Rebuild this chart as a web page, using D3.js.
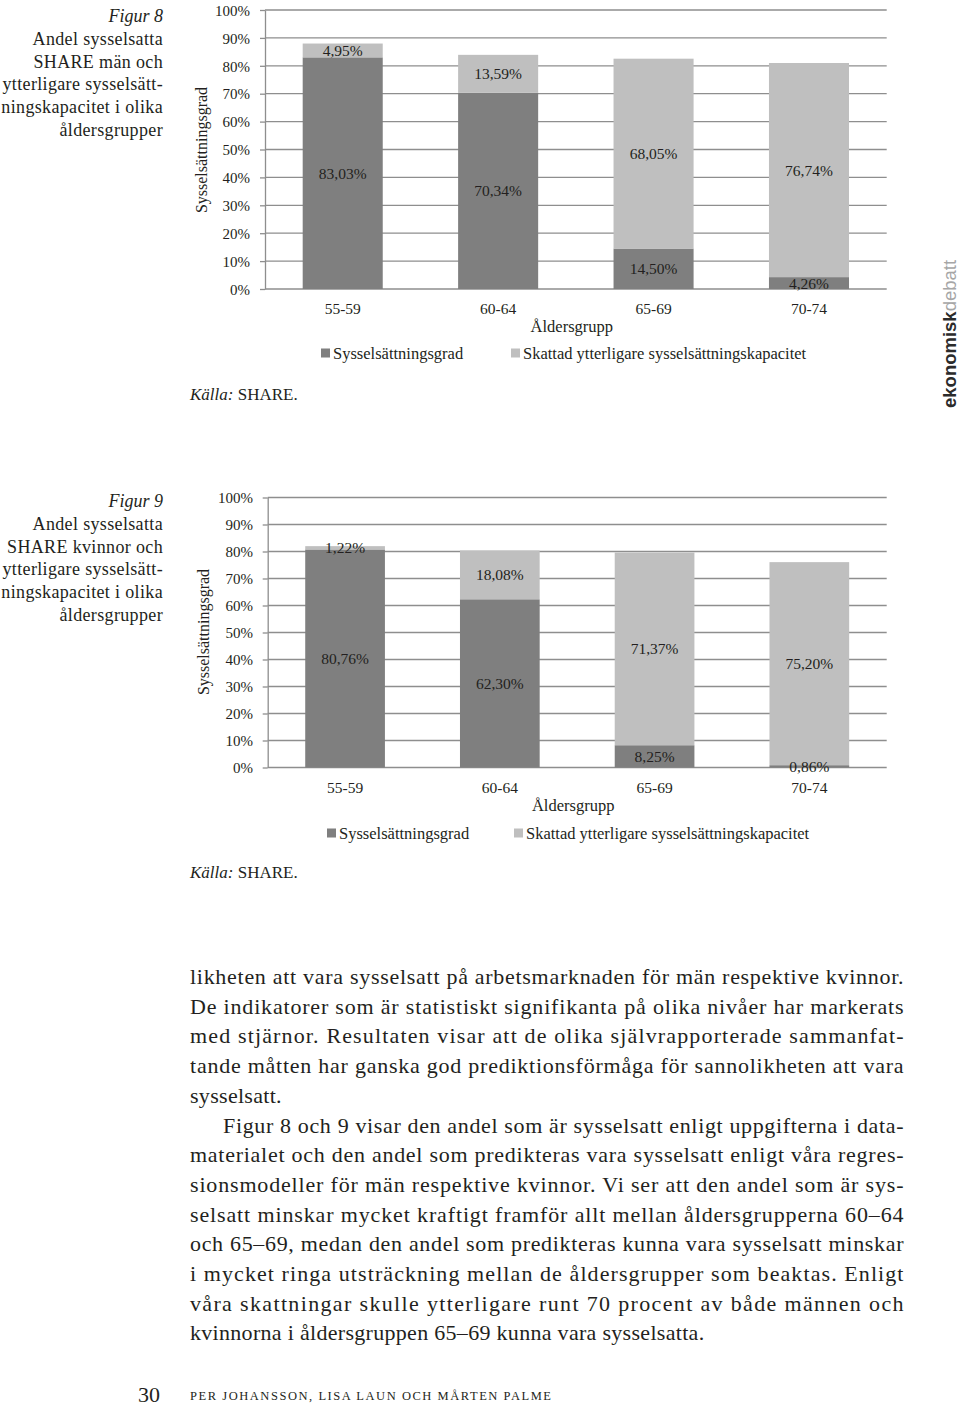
<!DOCTYPE html>
<html>
<head>
<meta charset="utf-8">
<script src="https://cdn.jsdelivr.net/npm/d3@7"></script>
<style>
  body { margin: 0; background: #fff; }
  svg { display: block; }
  text { font-family: "Liberation Serif", "Times New Roman", serif; fill: #231f20; }
</style>
</head>
<body>
<script>
// data
const ageGroups = ["55-59", "60-64", "65-69", "70-74"];
const menEmployed = [83.03, 70.34, 14.50, 4.26];
const menCapacity = [4.95, 13.59, 68.05, 76.74];
const womenEmployed = [80.76, 62.30, 8.25, 0.86];
const womenCapacity = [1.22, 18.08, 71.37, 75.20];
const yTicks = [0, 10, 20, 30, 40, 50, 60, 70, 80, 90, 100];
const seriesNames = ["Sysselsättningsgrad", "Skattad ytterligare sysselsättningskapacitet"];
const captionMen = ["Andel sysselsatta", "SHARE män och", "ytterligare sysselsätt-", "ningskapacitet i olika", "åldersgrupper"];
const captionWomen = ["Andel sysselsatta", "SHARE kvinnor och", "ytterligare sysselsätt-", "ningskapacitet i olika", "åldersgrupper"];
const bodyLines = [
  "likheten att vara sysselsatt på arbetsmarknaden för män respektive kvinnor.",
  "De indikatorer som är statistiskt signifikanta på olika nivåer har markerats",
  "med stjärnor. Resultaten visar att de olika självrapporterade sammanfat-",
  "tande måtten har ganska god prediktionsförmåga för sannolikheten att vara",
  "sysselsatt.",
  "Figur 8 och 9 visar den andel som är sysselsatt enligt uppgifterna i data-",
  "materialet och den andel som predikteras vara sysselsatt enligt våra regres-",
  "sionsmodeller för män respektive kvinnor. Vi ser att den andel som är sys-",
  "selsatt minskar mycket kraftigt framför allt mellan åldersgrupperna 60–64",
  "och 65–69, medan den andel som predikteras kunna vara sysselsatt minskar",
  "i mycket ringa utsträckning mellan de åldersgrupper som beaktas. Enligt",
  "våra skattningar skulle ytterligare runt 70 procent av både männen och",
  "kvinnorna i åldersgruppen 65–69 kunna vara sysselsatta."
];
const lastLines = [4, 12];   // lines not justified
const indentLines = [5];

const darkGray = "#7f7f7f";
const lightGray = "#bfbfbf";
const gridColor = "#8e8e8e";

const svg = d3.select("body").append("svg")
    .attr("width", 960)
    .attr("height", 1409);

const fmt = v => v.toFixed(2).replace(".", ",") + "%";

function drawCaption(num, lines, x, y0, kallaY) {
    svg.append("text")
        .attr("x", x).attr("y", y0)
        .attr("text-anchor", "end")
        .style("font-size", "18px")
        .style("font-style", "italic")
        .text("Figur " + num);
    lines.forEach((l, i) => {
        svg.append("text")
            .attr("x", x).attr("y", y0 + 22.8 * (i + 1))
            .attr("text-anchor", "end")
            .style("font-size", "18px")
            .style("letter-spacing", "0.35px")
            .text(l);
    });
    const k = svg.append("text")
        .attr("x", 190).attr("y", kallaY)
        .style("font-size", "17px");
    k.append("tspan").style("font-style", "italic").text("Källa: ");
    k.append("tspan").text("SHARE.");
}

function drawChart(o) {
    const x = d3.scaleBand()
        .domain(ageGroups)
        .range([o.left, o.right])
        .paddingInner(0.485)
        .paddingOuter(0.2425);
    const y = d3.scaleLinear().domain([0, 100]).range([o.bottom, o.top]);

    const g = svg.append("g");

    // gridlines
    g.selectAll(".grid")
        .data(yTicks)
        .join("line")
        .attr("class", "grid")
        .attr("x1", o.left).attr("x2", o.right)
        .attr("y1", d => y(d)).attr("y2", d => y(d))
        .attr("stroke", gridColor)
        .attr("stroke-width", 1.3);

    // y axis
    const yAxis = g.append("g")
        .attr("transform", "translate(" + o.left + ",0)")
        .call(d3.axisLeft(y)
            .tickValues(yTicks)
            .tickFormat(d => d + "%")
            .tickSize(5)
            .tickSizeOuter(0)
            .tickPadding(o.tickPad));
    yAxis.selectAll("path, line").attr("stroke", gridColor).attr("stroke-width", 1.3);
    yAxis.selectAll("text")
        .style("font-family", '"Liberation Serif", serif')
        .style("font-size", "15px")
        .attr("fill", "#231f20")
        .attr("dy", "0.35em");

    g.append("text")
        .attr("transform", "translate(" + o.titleX + "," + o.titleY + ") rotate(-90)")
        .attr("text-anchor", "middle")
        .attr("dominant-baseline", "central")
        .style("font-size", "16px")
        .text(seriesNames[0]);

    // stacked bars
    const rows = ageGroups.map((a, i) => ({ age: a, emp: o.emp[i], cap: o.cap[i] }));
    const series = d3.stack().keys(["emp", "cap"])(rows);
    const colors = { emp: darkGray, cap: lightGray };

    series.forEach(s => {
        g.selectAll(".bar-" + s.key)
            .data(s)
            .join("rect")
            .attr("x", d => x(d.data.age))
            .attr("width", x.bandwidth())
            .attr("y", d => y(d[1]))
            .attr("height", d => y(d[0]) - y(d[1]))
            .attr("fill", colors[s.key]);
    });
    series.forEach(s => {
        g.selectAll(".lab-" + s.key)
            .data(s)
            .join("text")
            .attr("x", d => x(d.data.age) + x.bandwidth() / 2)
            .attr("y", d => (y(d[0]) + y(d[1])) / 2)
            .attr("text-anchor", "middle")
            .attr("dominant-baseline", "central")
            .style("font-size", "15.5px")
            .text(d => fmt(d.data[s.key]));
    });

    // x axis labels
    const xAxis = g.append("g")
        .attr("transform", "translate(0," + o.bottom + ")")
        .call(d3.axisBottom(x).tickSize(0).tickSizeOuter(0));
    xAxis.select(".domain").remove();
    xAxis.selectAll("text")
        .attr("y", o.xLabOff)
        .attr("dy", "0.35em")
        .style("font-family", '"Liberation Serif", serif')
        .style("font-size", "15.5px")
        .attr("fill", "#231f20");

    g.append("text")
        .attr("x", (o.left + o.right) / 2 - 4)
        .attr("y", o.bottom + o.xTitleOff)
        .attr("text-anchor", "middle")
        .attr("dominant-baseline", "central")
        .style("font-size", "16.5px")
        .text("Åldersgrupp");

    // legend
    const legendY = o.legendY;
    [0, 1].forEach(i => {
        g.append("rect")
            .attr("x", o.legendX[i]).attr("y", legendY - 4.5)
            .attr("width", 9).attr("height", 9)
            .attr("fill", i === 0 ? darkGray : lightGray);
        g.append("text")
            .attr("x", o.legendX[i] + 12).attr("y", legendY)
            .attr("dominant-baseline", "central")
            .style("font-size", "16.5px")
            .text(seriesNames[i]);
    });
}

drawCaption(8, captionMen, 163, 22, 400);
drawChart({
    left: 265, right: 886.7, top: 10, bottom: 289,
    tickPad: 10, titleX: 201, titleY: 150,
    emp: menEmployed, cap: menCapacity,
    xLabOff: 20, xTitleOff: 37, legendY: 353, legendX: [321, 511]
});

drawCaption(9, captionWomen, 163, 507, 878);
drawChart({
    left: 267.7, right: 886.7, top: 497.5, bottom: 767.5,
    tickPad: 9.7, titleX: 203, titleY: 632,
    emp: womenEmployed, cap: womenCapacity,
    xLabOff: 20, xTitleOff: 38, legendY: 833, legendX: [327, 514]
});

// journal logo down the right edge
const logo = svg.append("text")
    .attr("transform", "translate(956,408) rotate(-90)")
    .style("font-family", '"Liberation Sans", Arial, sans-serif')
    .style("font-size", "18.5px");
logo.append("tspan").style("font-weight", "bold").attr("fill", "#2b2b2b").text("ekonomisk");
logo.append("tspan").attr("fill", "#a6a6a6").text("debatt");

// body text, justified between 190 and 903
const textLeft = 190, textRight = 903.5, baseY = 984, lineGap = 29.7;
bodyLines.forEach((line, i) => {
    const start = textLeft + (indentLines.includes(i) ? 33 : 0);
    const t = svg.append("text")
        .attr("x", start)
        .attr("y", baseY + i * lineGap)
        .style("font-size", "22px")
        .text(line);
    if (lastLines.includes(i)) {
        t.style("letter-spacing", "0.3px");
    } else {
        t.attr("textLength", textRight - start).attr("lengthAdjust", "spacing");
    }
});

// footer
svg.append("text")
    .attr("x", 138).attr("y", 1402)
    .style("font-size", "22px")
    .text("30");
svg.append("text")
    .attr("x", 190).attr("y", 1399.5)
    .style("font-size", "12.5px")
    .attr("textLength", 361)
    .attr("lengthAdjust", "spacing")
    .text("PER JOHANSSON, LISA LAUN OCH MÅRTEN PALME");
</script>
</body>
</html>
